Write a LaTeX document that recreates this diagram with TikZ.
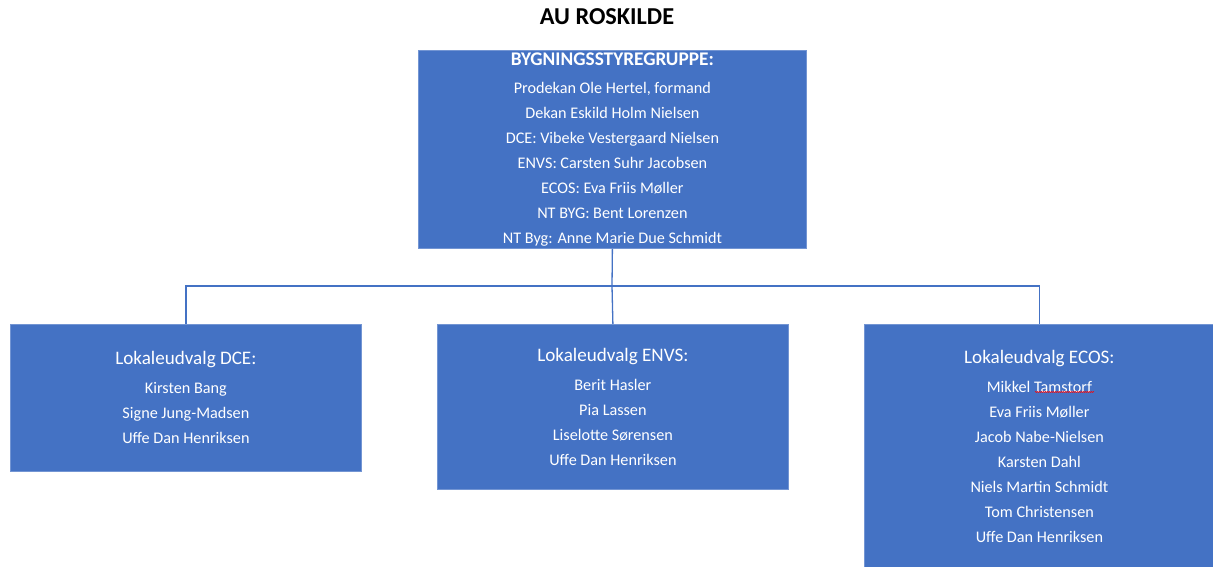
\documentclass[tikz,border=0pt]{standalone}
\usepackage{fontspec}
\setmainfont{Carlito}
\usetikzlibrary{decorations.pathmorphing}
\definecolor{aublue}{HTML}{4472C4}
\begin{document}
\begin{tikzpicture}[x=1pt,y=-1pt,
  box/.style={fill=aublue, draw=aublue!75!white, line width=0.8pt, text=white, align=center, inner sep=0pt, anchor=north west},
  conn/.style={draw=aublue, line width=1.3pt},
  names/.style={font=\fontsize{16.2}{25}\selectfont}]
\useasboundingbox (0,0) rectangle (1213,567);
\node[font=\bfseries\fontsize{24.3}{28}\selectfont, anchor=center] (title) at (607,17) {AU ROSKILDE};
\node[box, names, minimum width=388pt, minimum height=198pt] (top) at (418,50)
 {{\bfseries\fontsize{19.3}{22}\selectfont BYGNINGSSTYREGRUPPE:}\\[3pt]
  Prodekan Ole Hertel, formand\\
  Dekan Eskild Holm Nielsen\\
  DCE: Vibeke Vestergaard Nielsen\\
  ENVS: Carsten Suhr Jacobsen\\
  ECOS: Eva Friis Møller\\
  NT BYG: Bent Lorenzen\\
  NT Byg: Anne Marie Due Schmidt};
\node[box, names, minimum width=351pt, minimum height=147pt] (dce) at (10,324)
 {{\fontsize{19.1}{22}\selectfont Lokaleudvalg DCE:}\\[4pt]
  Kirsten Bang\\
  Signe Jung-Madsen\\
  Uffe Dan Henriksen};
\node[box, names, minimum width=351pt, minimum height=165pt] (envs) at (437,324)
 {{\fontsize{19.1}{22}\selectfont Lokaleudvalg ENVS:}\\[4pt]
  Berit Hasler\\
  Pia Lassen\\
  Liselotte Sørensen\\
  Uffe Dan Henriksen};
\node[box, names, minimum width=350pt, minimum height=244pt] (ecos) at (864,324)
 {{\fontsize{19.1}{22}\selectfont Lokaleudvalg ECOS:}\\[4pt]
  Mikkel Tamstorf\\
  Eva Friis Møller\\
  Jacob Nabe-Nielsen\\
  Karsten Dahl\\
  Niels Martin Schmidt\\
  Tom Christensen\\
  Uffe Dan Henriksen};
\coordinate (j) at (612,286);
\draw[conn] (top.south) -- (j);
\draw[conn] (dce.north) |- (j);
\draw[conn] (ecos.north) |- (j);
\draw[conn] (j) -- (envs.north);
\draw[red, line width=0.5pt, decorate, decoration={zigzag, segment length=2pt, amplitude=0.5pt}] (1035,392) -- (1094,392);
\end{tikzpicture}
\end{document}
